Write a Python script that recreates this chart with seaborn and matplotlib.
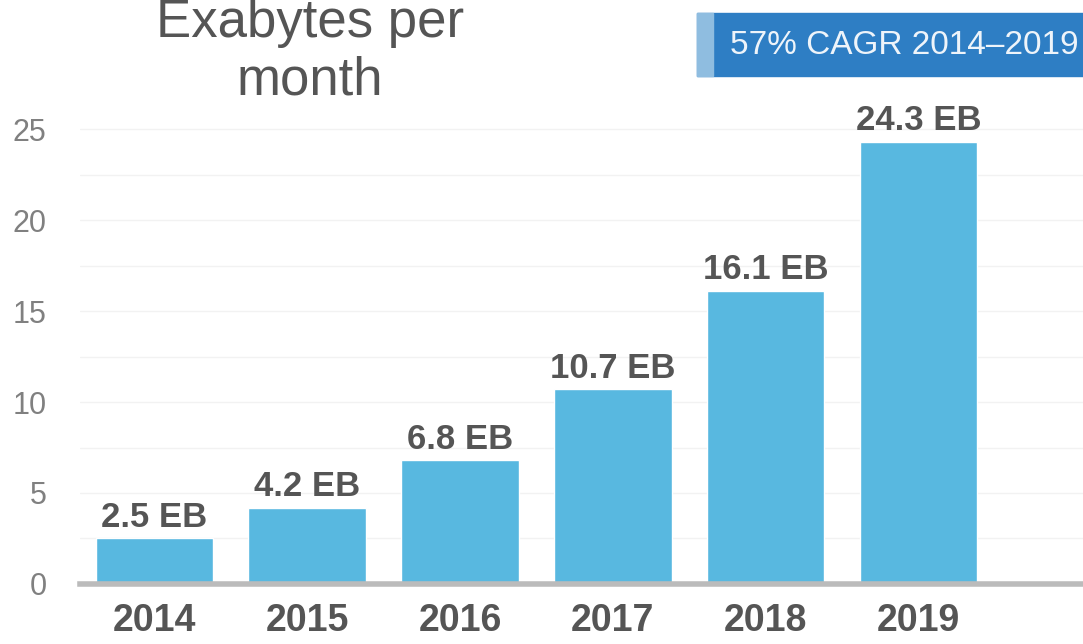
import pandas as pd
import numpy as np
import matplotlib.pyplot as plt
import seaborn as sns
from matplotlib.patches import Rectangle

years = ['2014', '2015', '2016', '2017', '2018', '2019']
exabytes = [2.5, 4.2, 6.8, 10.7, 16.1, 24.3]
bar_labels = ['2.5 EB', '4.2 EB', '6.8 EB', '10.7 EB', '16.1 EB', '24.3 EB']
y_ticks = [0, 5, 10, 15, 20, 25]

df = pd.DataFrame({'year': years, 'eb': exabytes})

sns.set_style('white')
plt.rcParams['font.family'] = ['Liberation Sans', 'DejaVu Sans']

fig = plt.figure(figsize=(10.83, 6.44), dpi=100)
ax = fig.add_axes([0.0739, 0.0932, 0.926, 0.7516])

sns.barplot(data=df, x='year', y='eb', color='#58b8e0', saturation=1,
            width=0.77, ax=ax, zorder=3)

ax.set_xlim(-0.4876, 6.077)
ax.set_ylim(0, 26.6)
ax.set_yticks(y_ticks)
ax.set_yticklabels([str(t) for t in y_ticks], fontsize=22, color='#808080')
ax.tick_params(axis='y', length=0, pad=24)
ax.tick_params(axis='x', length=0, pad=14)
for lab in ax.get_xticklabels():
    lab.set_fontsize(27)
    lab.set_fontweight('bold')
    lab.set_color('#555555')
ax.set_xlabel('')
ax.set_ylabel('')

# faint grid lines
for g in np.arange(2.5, 26.6, 2.5):
    ax.axhline(g, color='#f2f2f2', lw=1, zorder=0)

for s in ['top', 'right', 'left']:
    ax.spines[s].set_visible(False)
ax.spines['bottom'].set_color('#bbbbbb')
ax.spines['bottom'].set_linewidth(4)
ax.spines['bottom'].set_zorder(4)

for i, (v, t) in enumerate(zip(exabytes, bar_labels)):
    ax.text(i, v + 0.25, t, ha='center', va='bottom', fontsize=25,
            fontweight='bold', color='#555555')

fig.text(0.286, 1 - 52 / 644, 'Exabytes per\nmonth', ha='center', va='center',
         fontsize=38, color='#555555', linespacing=1.2)

# CAGR box
fig.patches.append(Rectangle((697 / 1083, 1 - 76 / 644), 386 / 1083, 63 / 644,
                             transform=fig.transFigure, color='#2e7ec4', zorder=1))
fig.patches.append(Rectangle((697 / 1083, 1 - 76 / 644), 16 / 1083, 63 / 644,
                             transform=fig.transFigure, color='#8fbde0', zorder=2))
fig.text(730 / 1083, 1 - 46 / 644, '57% CAGR 2014\u20132019', ha='left', va='center',
         fontsize=24, color='#eef4fa')

plt.savefig('out.png', dpi=100)
